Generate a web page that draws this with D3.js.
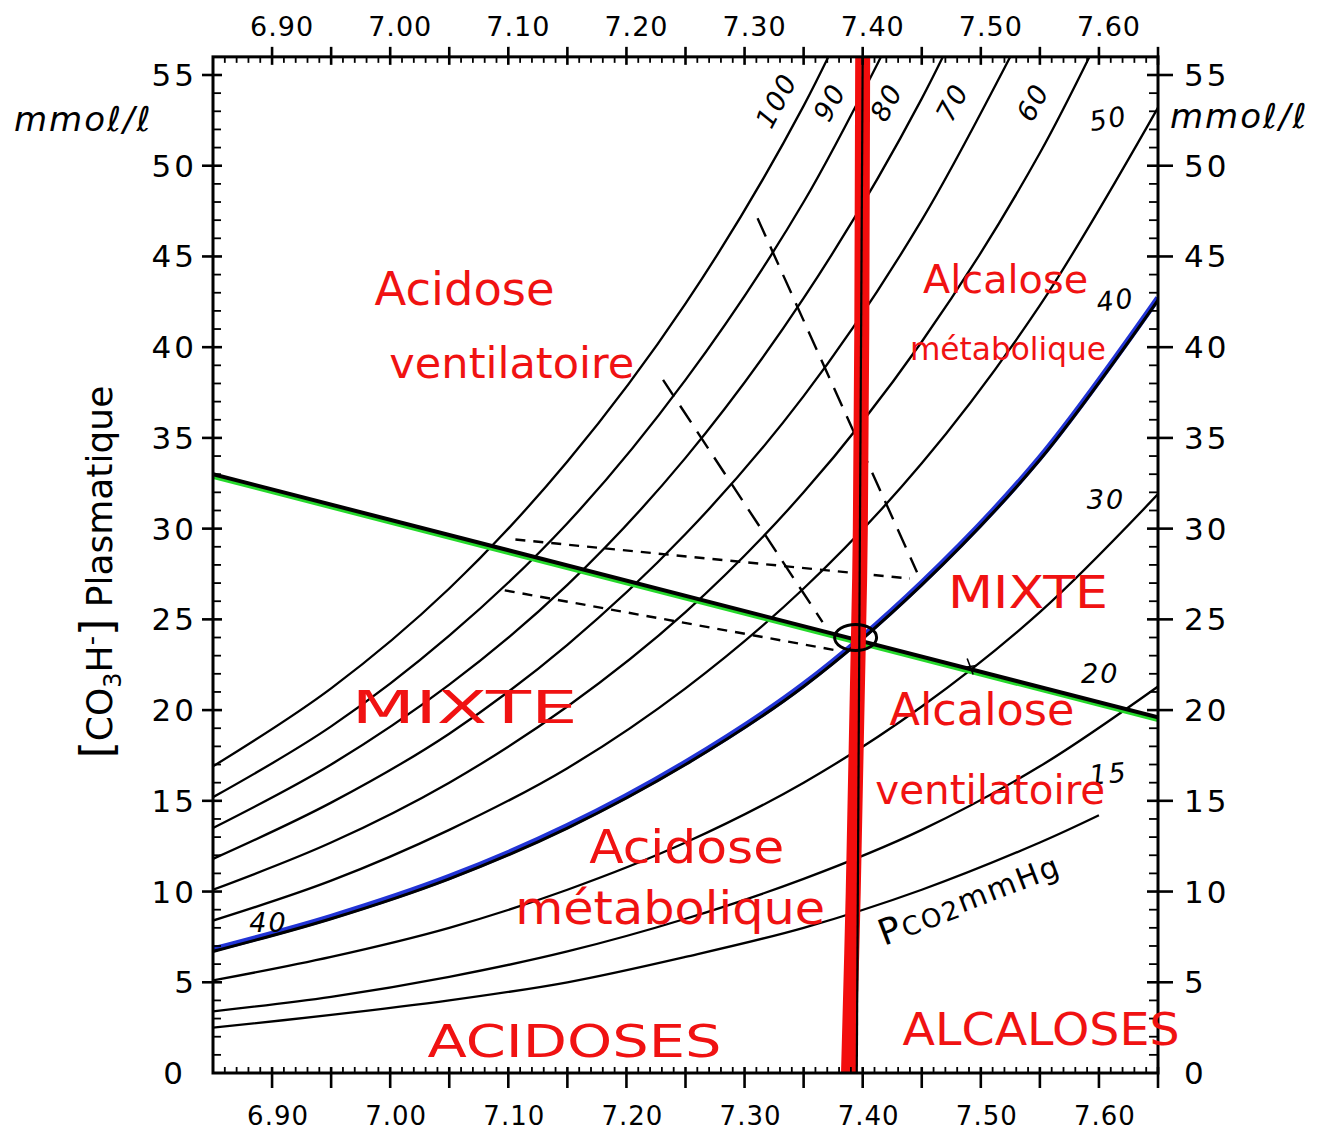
<!DOCTYPE html>
<html>
<head>
<meta charset="utf-8">
<script src="https://cdn.jsdelivr.net/npm/d3@7"></script>
<style>
  body { margin: 0; background: #fff; }
  svg { display: block; }
  text { font-family: "DejaVu Sans", sans-serif; }
</style>
</head>
<body>
<svg id="chart" width="1326" height="1135"></svg>
<script>
// pH grid used for the isopleths
const phGrid = [6.85, 6.95, 7.05, 7.15, 7.25, 7.35, 7.45, 7.55, 7.65];
const pco2Levels = [100, 90, 80, 70, 60, 50, 40, 30, 20];
const hco3Curves = [
  [16.9, 21.2, 26.7, 33.7, 42.4, 53.3, 67.2, null, null],
  [15.2, 19.1, 24.1, 30.3, 38.2, 48.0, 60.5, null, null],
  [13.5, 17.0, 21.4, 26.9, 33.9, 42.7, 53.7, 67.6, null],
  [11.8, 14.9, 18.7, 23.6, 29.7, 37.3, 47.0, 59.2, null],
  [10.1, 12.7, 16.0, 20.2, 25.4, 32.0, 40.3, 50.7, 63.9],
  [8.4, 10.6, 13.4, 16.8, 21.2, 26.7, 33.6, 42.3, 53.2],
  [6.7, 8.5, 10.7, 13.5, 17.0, 21.3, 26.9, 33.8, 42.6],
  [5.1, 6.4, 8.0, 10.1, 12.7, 16.0, 20.2, 25.4, 31.9],
  [3.4, 4.2, 5.3, 6.7, 8.5, 10.7, 13.4, 16.9, 21.3]
];
// the 15 mmHg curve stops at pH 7.60
const ph15 = [6.85, 6.95, 7.05, 7.15, 7.25, 7.35, 7.45, 7.55, 7.60];
const hco3Curve15 = [2.5, 3.2, 4.0, 5.0, 6.4, 8.0, 10.1, 12.7, 14.2];

const bufferLine = [[6.85, 33.0], [7.65, 19.6]];
const normalLine = [[7.400, 56], [7.395, 0]];
const redLine = [[7.400, 56], [7.398, 30], [7.392, 10], [7.388, 0]];
const longDashes = [
  [[7.231, 38.2], [7.366, 24.85]],
  [[7.311, 47.1], [7.446, 27.6]]
];
const shortDashes = [
  [[7.106, 29.4], [7.440, 27.25]],
  [[7.097, 26.6], [7.377, 23.3]]
];
const normalPoint = [7.394, 24.0];
const crossMark = [7.491, 22.4];

const phLabels = ['6.90', '7.00', '7.10', '7.20', '7.30', '7.40', '7.50', '7.60'];
const hco3Labels = [0, 5, 10, 15, 20, 25, 30, 35, 40, 45, 50, 55];

// label anchors for the isopleths: [text, pH, HCO3, angle]
const curveLabels = [
  ['100', 7.327, 53.6, -62], ['90', 7.372, 53.5, -62], ['80', 7.420, 53.5, -62],
  ['70', 7.476, 53.5, -62], ['60', 7.544, 53.5, -62], ['50', 7.608, 52.6, -10],
  ['40', 7.614, 42.6, -8], ['30', 7.606, 31.6, 0], ['20', 7.601, 22.0, 0],
  ['15', 7.608, 16.5, -5], ['40', 6.897, 8.3, 0]
];

// handwritten zones: [text, pH centre, HCO3 baseline, width]
const zoneLabels = [
  ['Acidose', 7.063, 42.3, 180], ['ventilatoire', 7.103, 38.3, 245],
  ['Alcalose', 7.521, 43.0, 165], ['métabolique', 7.523, 39.3, 196],
  ['MIXTE', 7.540, 25.6, 160], ['MIXTE', 7.063, 19.3, 226],
  ['Alcalose', 7.501, 19.2, 185], ['ventilatoire', 7.508, 14.8, 230],
  ['Acidose', 7.251, 11.6, 195], ['métabolique', 7.237, 8.2, 310],
  ['ACIDOSES', 7.156, 0.9, 294], ['ALCALOSES', 7.551, 1.55, 277]
];

const svg = d3.select('#chart');
const x = d3.scaleLinear().domain([6.85, 7.65]).range([213, 1158]);
const y = d3.scaleLinear().domain([0, 55]).range([1073, 75]);
const yTop = y(56), yBot = y(0), xL = x(6.85), xR = x(7.65);

svg.append('defs').append('clipPath').attr('id', 'plot')
  .append('rect').attr('x', xL).attr('y', yTop).attr('width', xR - xL).attr('height', yBot - yTop);

const plot = svg.append('g').attr('clip-path', 'url(#plot)');
const line = d3.line().defined(d => d[1] != null).x(d => x(d[0])).y(d => y(d[1]));
const smooth = d3.line().defined(d => d[1] != null).x(d => x(d[0])).y(d => y(d[1]))
  .curve(d3.curveCatmullRom.alpha(0.5));

// isopleths
hco3Curves.forEach((vals, i) => {
  const pts = phGrid.map((p, j) => [p, vals[j]]);
  if (pco2Levels[i] === 40) {
    plot.append('path').attr('d', smooth(pts)).attr('fill', 'none')
      .attr('stroke', '#2234d6').attr('stroke-width', 6).attr('transform', 'translate(0,-2)');
  }
  plot.append('path').attr('d', smooth(pts)).attr('fill', 'none')
    .attr('stroke', '#000').attr('stroke-width', pco2Levels[i] === 40 ? 3 : 2.3);
});
plot.append('path').attr('d', smooth(ph15.map((p, j) => [p, hco3Curve15[j]])))
  .attr('fill', 'none').attr('stroke', '#000').attr('stroke-width', 2.3);

// dashed construction lines
longDashes.forEach(seg => plot.append('path').attr('d', line(seg))
  .attr('stroke', '#000').attr('stroke-width', 2.4).attr('stroke-dasharray', '20 11').attr('fill', 'none'));
shortDashes.forEach(seg => plot.append('path').attr('d', line(seg))
  .attr('stroke', '#000').attr('stroke-width', 2.4).attr('stroke-dasharray', '10 8').attr('fill', 'none'));

// buffer line (green highlight under black)
plot.append('path').attr('d', line(bufferLine)).attr('transform', 'translate(0,3)')
  .attr('stroke', '#25d92b').attr('stroke-width', 3.5).attr('fill', 'none');
plot.append('path').attr('d', line(bufferLine))
  .attr('stroke', '#000').attr('stroke-width', 4).attr('fill', 'none');

// red hand-drawn pH 7.40 line and black reference line
plot.append('path').attr('d', smooth(redLine)).attr('stroke', '#f20d0d')
  .attr('stroke-width', 15).attr('fill', 'none');
plot.append('path').attr('d', line(normalLine)).attr('stroke', '#000')
  .attr('stroke-width', 2.2).attr('fill', 'none');

// normal point ellipse
plot.append('ellipse').attr('cx', x(normalPoint[0])).attr('cy', y(normalPoint[1]))
  .attr('rx', 21).attr('ry', 13).attr('fill', 'none').attr('stroke', '#000').attr('stroke-width', 3);
// small cross on buffer line
svg.append('path')
  .attr('d', `M${x(crossMark[0]) - 3},${y(crossMark[1]) - 8}L${x(crossMark[0]) + 3},${y(crossMark[1]) + 8}` +
    `M${x(crossMark[0]) - 6},${y(crossMark[1]) + 1}L${x(crossMark[0]) + 6},${y(crossMark[1]) - 1}`)
  .attr('stroke', '#000').attr('stroke-width', 1.6);

// frame
svg.append('rect').attr('x', xL).attr('y', yTop).attr('width', xR - xL).attr('height', yBot - yTop)
  .attr('fill', 'none').attr('stroke', '#000').attr('stroke-width', 3);

// pH ticks top and bottom
const ax = svg.append('g').attr('stroke', '#000');
d3.range(686, 766).forEach(t => {
  const px = x(t / 100);
  const major = t % 5 === 0;
  ax.append('line').attr('x1', px).attr('x2', px)
    .attr('y1', major ? yTop - 10 : yTop).attr('y2', yTop + (major ? 8 : 6))
    .attr('stroke-width', major ? 2.6 : 1.8);
  ax.append('line').attr('x1', px).attr('x2', px)
    .attr('y1', yBot - 6).attr('y2', major ? yBot + 15 : yBot)
    .attr('stroke-width', major ? 2.6 : 1.8);
});
phLabels.forEach(l => {
  svg.append('text').attr('x', x(+l) + 10).attr('y', 36).attr('text-anchor', 'middle')
    .attr('font-size', 27).attr('letter-spacing', 1).text(l);
  svg.append('text').attr('x', x(+l) + 6).attr('y', 1125).attr('text-anchor', 'middle')
    .attr('font-size', 26).attr('letter-spacing', 1).text(l);
});

// HCO3 ticks left and right
d3.range(1, 56).forEach(v => {
  const py = y(v);
  const major = v % 5 === 0;
  ax.append('line').attr('y1', py).attr('y2', py)
    .attr('x1', major ? xL - 11 : xL).attr('x2', xL + (major ? 9 : 8))
    .attr('stroke-width', major ? 2.6 : 1.8);
  ax.append('line').attr('y1', py).attr('y2', py)
    .attr('x1', xR - (major ? 11 : 9)).attr('x2', major ? xR + 15 : xR)
    .attr('stroke-width', major ? 2.6 : 1.8);
});
hco3Labels.forEach(v => {
  svg.append('text').attr('x', v === 0 ? 186 : 197).attr('y', y(v) + 11).attr('text-anchor', 'end')
    .attr('font-size', 31).attr('letter-spacing', 3).text(v);
  svg.append('text').attr('x', 1184).attr('y', y(v) + 11).attr('text-anchor', 'start')
    .attr('font-size', 31).attr('letter-spacing', 3).text(v);
});

// units
svg.append('text').attr('x', 14).attr('y', 131).attr('font-size', 34).attr('font-style', 'italic')
  .attr('letter-spacing', 2).text('mmoℓ/ℓ');
svg.append('text').attr('x', 1170).attr('y', 128).attr('font-size', 34).attr('font-style', 'italic')
  .attr('letter-spacing', 2).text('mmoℓ/ℓ');

// y title
const yt = svg.append('text').attr('transform', 'translate(112,572) rotate(-90)')
  .attr('text-anchor', 'middle').attr('font-size', 36);
yt.append('tspan').attr('font-size', 44).text('[');
yt.append('tspan').text('CO');
yt.append('tspan').attr('font-size', 24).attr('dy', 9).text('3');
yt.append('tspan').attr('dy', -9).text('H');
yt.append('tspan').attr('font-size', 26).attr('dy', -12).text('-');
yt.append('tspan').attr('font-size', 44).attr('dy', 12).text(']');
yt.append('tspan').text(' Plasmatique');

// isopleth labels
curveLabels.forEach(([t, p, v, a]) => {
  svg.append('text').attr('transform', `translate(${x(p)},${y(v)}) rotate(${a})`)
    .attr('text-anchor', 'middle').attr('dominant-baseline', 'central')
    .attr('font-size', 27).attr('font-style', 'italic').attr('letter-spacing', 2).text(t);
});
const pc = svg.append('text').attr('transform', `translate(${x(7.418)},${y(7.0)}) rotate(-21)`)
  .attr('font-size', 30).attr('letter-spacing', 2);
pc.append('tspan').attr('font-size', 36).text('P');
pc.append('tspan').attr('font-size', 26).text('CO2');
pc.append('tspan').attr('dy', -3).text('mmHg');

// handwritten zone names: shrink font so the natural width fits the reference width
zoneLabels.forEach(([t, p, v, w]) => {
  const base = t === t.toUpperCase() ? 44 : 46;
  const txt = svg.append('text').attr('x', x(p)).attr('y', y(v)).attr('text-anchor', 'middle')
    .attr('font-family', '"Noto Sans", sans-serif')
    .attr('font-size', base).attr('fill', '#f01212').text(t);
  const len = txt.node().getComputedTextLength();
  if (len > w) txt.attr('font-size', base * w / len);
  txt.attr('textLength', w).attr('lengthAdjust', 'spacingAndGlyphs');
});
</script>
</body>
</html>
